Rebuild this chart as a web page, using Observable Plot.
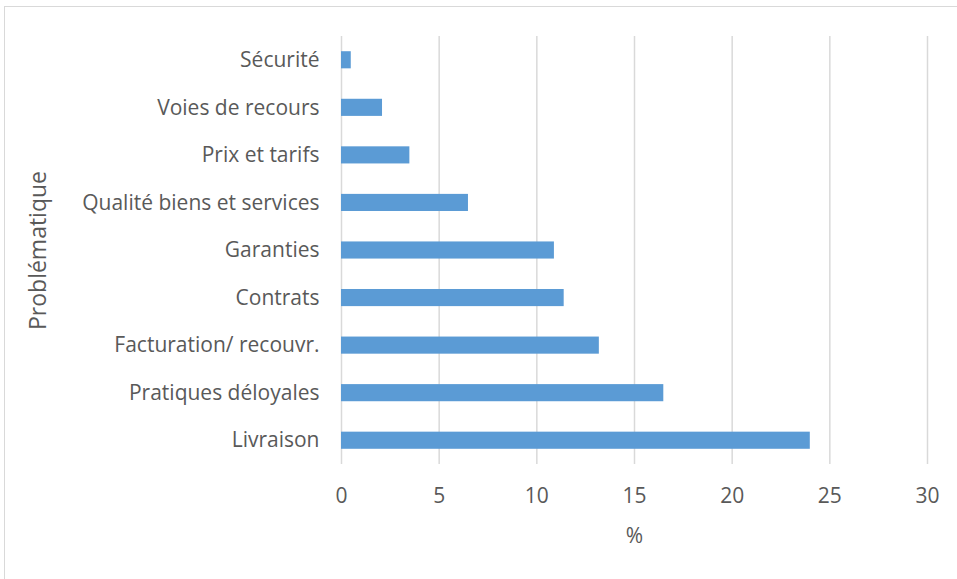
<!DOCTYPE html>
<html>
<head>
<meta charset="utf-8">
<script src="https://cdn.jsdelivr.net/npm/d3@7"></script>
<script src="https://cdn.jsdelivr.net/npm/@observablehq/plot@0.6"></script>
<style>
  html, body { margin: 0; padding: 0; background: #fff; }
  #wrap { position: relative; width: 957px; height: 579px; overflow: hidden; }
  #frame { position: absolute; left: 4px; top: 6px; width: 1000px; height: 700px; border: 1px solid #d9d9d9; box-sizing: border-box; }
  #chart { position: absolute; left: 0; top: 0; }
</style>
</head>
<body>
<div id="wrap"><div id="frame"></div><div id="chart"></div></div>
<script>
const categories = ["Sécurité", "Voies de recours", "Prix et tarifs", "Qualité biens et services", "Garanties", "Contrats", "Facturation/ recouvr.", "Pratiques déloyales", "Livraison"];
const values = [0.5, 2.1, 3.5, 6.5, 10.9, 11.4, 13.2, 16.5, 24.0];
const xTicks = [0, 5, 10, 15, 20, 25, 30];
const xLabel = "%";
const yLabel = "Problématique";

const data = categories.map((c, i) => ({category: c, value: values[i]}));

const chart = Plot.plot({
  width: 957,
  height: 579,
  marginLeft: 341,
  marginRight: 30,
  marginTop: 36,
  marginBottom: 115,
  style: {fontFamily: "'Open Sans', sans-serif", fontSize: "21px", color: "#595959", background: "transparent"},
  x: {domain: [0, 30], ticks: xTicks},
  y: {domain: categories, paddingInner: 0.64, paddingOuter: 0.32, round: false},
  marks: [
    Plot.gridX(xTicks, {stroke: "#d9d9d9", strokeOpacity: 1, strokeWidth: 1.5}),
    Plot.barX(data, {x: "value", y: "category", fill: "#5b9bd5"}),
    Plot.axisX(xTicks, {tickSize: 0, tickPadding: 24, fontSize: 21, label: null}),
    Plot.axisX({tickSize: 0, ticks: [], fontSize: 21, label: xLabel, labelAnchor: "center", labelArrow: "none", labelOffset: 78}),
    Plot.axisY({tickSize: 0, tickPadding: 22, fontSize: 21, label: null}),
    Plot.axisY({tickSize: 0, ticks: [], fontSize: 23, label: yLabel, labelAnchor: "center", labelArrow: "none", labelOffset: 312})
  ]
});
document.getElementById("chart").appendChild(chart);
</script>
</body>
</html>
